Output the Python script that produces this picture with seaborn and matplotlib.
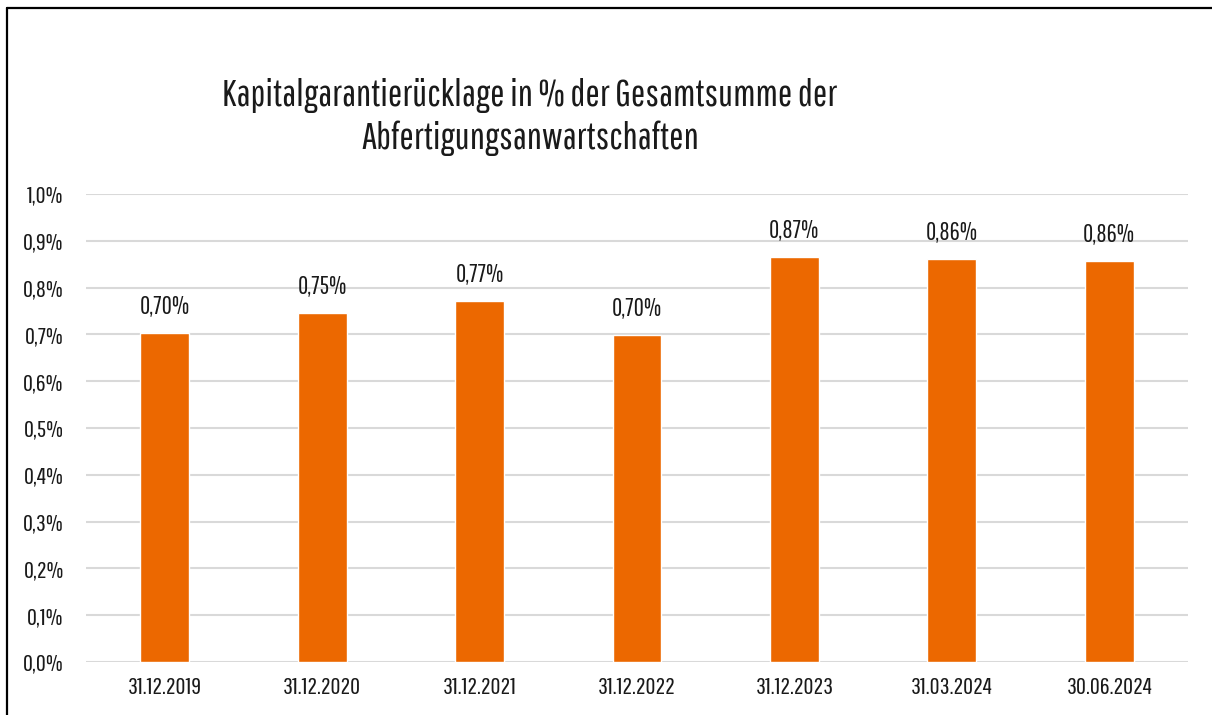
import matplotlib
matplotlib.use("Agg")
import matplotlib.pyplot as plt
import seaborn as sns
import pandas as pd
from matplotlib.lines import Line2D

dates = ["31.12.2019", "31.12.2020", "31.12.2021", "31.12.2022",
         "31.12.2023", "31.03.2024", "30.06.2024"]
ruecklage = [0.703, 0.746, 0.771, 0.699, 0.866, 0.861, 0.857]
title = "Kapitalgarantierücklage in % der Gesamtsumme der\nAbfertigungsanwartschaften"

df = pd.DataFrame({"Stichtag": dates, "Wert": ruecklage})

sns.set_style("white")
plt.rcParams["font.family"] = ["Pathway Gothic One", "DejaVu Sans"]

fig = plt.figure(figsize=(12.12, 7.15), dpi=100)
ax = fig.add_axes([86 / 1212, 1 - 662 / 715, 1102 / 1212, 468 / 715])

sns.barplot(data=df, x="Stichtag", y="Wert", color="#EC6800", width=0.31,
            saturation=1, ax=ax)

ax.set_ylim(0, 1.0)
yt = [i / 10 for i in range(11)]
ax.set_yticks(yt)
ax.set_yticklabels([f"{v:.1f}%".replace(".", ",") for v in yt])
ax.yaxis.grid(True, color="#D9D9D9", linewidth=1.5)
ax.set_axisbelow(True)
for s in ax.spines.values():
    s.set_visible(False)
ax.tick_params(axis="both", length=0, labelsize=17.5, colors="#1a1a1a")
ax.tick_params(axis="y", pad=16)
ax.tick_params(axis="x", pad=11)
ax.set_xlabel("")
ax.set_ylabel("")

ax.bar_label(ax.containers[0],
             labels=[f"{v:.2f}%".replace(".", ",") for v in ruecklage],
             padding=10, fontsize=18, color="#1a1a1a")

fig.text(530 / 1212, 1 - 117 / 715, title, ha="center", va="center",
         fontsize=27.5, color="#1a1a1a", linespacing=1.25)

# Rahmen (links und oben)
fig.add_artist(Line2D([7 / 1212, 7 / 1212], [0, 1 - 8 / 715], color="black",
                      linewidth=1.6, transform=fig.transFigure))
fig.add_artist(Line2D([7 / 1212, 1], [1 - 8 / 715, 1 - 8 / 715], color="black",
                      linewidth=1.6, transform=fig.transFigure))

fig.savefig("out.png", dpi=100)
